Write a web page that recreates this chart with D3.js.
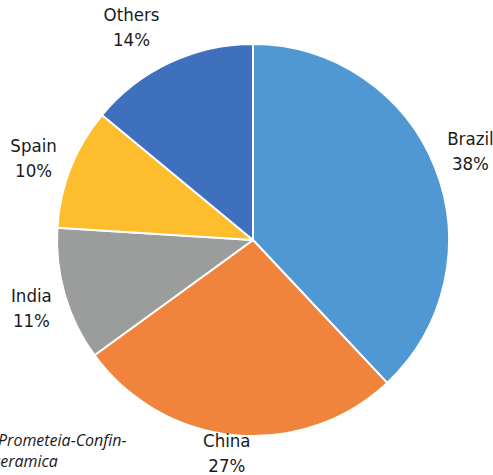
<!DOCTYPE html>
<html><head><meta charset="utf-8">
<script src="https://cdn.jsdelivr.net/npm/d3@7"></script>
<style>
html,body{margin:0;padding:0;background:#fff;overflow:hidden}
svg{display:block}
.lbl{font-family:"DejaVu Sans Condensed","DejaVu Sans",sans-serif;font-stretch:condensed;font-size:18.5px;fill:#1a1a1a}
.src{font-family:"Open Sans",sans-serif;font-style:italic;font-size:16px;fill:#1a1a1a}
</style></head>
<body>
<svg id="c" width="493" height="475"></svg>
<script>
const categories = ["Brazil","China","India","Spain","Others"];
const shares = [38, 27, 11, 10, 14];
const colors = ["#4f98d4","#f0843c","#9b9d9d","#fdbd2c","#3e70bd"];
const sourceLines = ["Prometeia-Confin-","ceramica"];

const W = 493, H = 475;
const cx = 253, cy = 240, R = 196;
const svg = d3.select("#c");
const g = svg.append("g").attr("transform", `translate(${cx},${cy})`);

const data = categories.map((c,i)=>({name:c, value:shares[i], color:colors[i]}));
const pie = d3.pie().sort(null).value(d=>d.value);
const arc = d3.arc().innerRadius(0).outerRadius(R);
const arcs = pie(data);

g.selectAll("path").data(arcs).join("path")
  .attr("d", arc)
  .attr("fill", d=>d.data.color)
  .attr("stroke", "#fff")
  .attr("stroke-width", 2)
  .attr("stroke-linejoin","round");

// label layout: position along mid-angle, with small layout nudges
const labelR = 236;
const nudge = {Brazil:[-2,4], China:[-4,-16], India:[5,8], Spain:[0,11], Others:[-21,7]};
arcs.forEach(a=>{
  const mid = (a.startAngle + a.endAngle)/2;
  const n = nudge[a.data.name] || [0,0];
  const x = Math.sin(mid)*labelR + n[0];
  const y = -Math.cos(mid)*labelR + n[1];
  const t = g.append("text").attr("class","lbl").attr("text-anchor","middle");
  t.append("tspan").attr("x", x).attr("y", y - 12).text(a.data.name);
  t.append("tspan").attr("x", x).attr("y", y + 13).text(a.data.value + "%");
});

const src = svg.append("text").attr("class","src");
src.append("tspan").attr("x",-2).attr("y",446).text(sourceLines[0]);
src.append("tspan").attr("x",-7).attr("y",467).text(sourceLines[1]);
</script>
</body></html>
